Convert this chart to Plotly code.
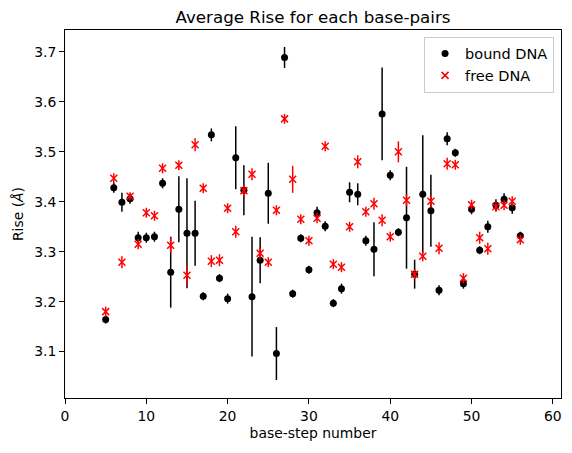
import plotly.graph_objects as go

steps = list(range(5, 57))

bound_rise = [3.164, 3.428, 3.399, 3.406, 3.328, 3.328, 3.330, 3.437, 3.259, 3.385,
              3.337, 3.337, 3.211, 3.534, 3.247, 3.206, 3.488, 3.423, 3.210, 3.283,
              3.417, 3.096, 3.689, 3.216, 3.327, 3.264, 3.378, 3.351, 3.197, 3.226,
              3.419, 3.415, 3.322, 3.305, 3.576, 3.453, 3.339, 3.368, 3.255, 3.415,
              3.382, 3.223, 3.526, 3.498, 3.236, 3.385, 3.303, 3.350, 3.393, 3.405,
              3.388, 3.332]
bound_err = [0.008, 0.010, 0.019, 0.010, 0.012, 0.010, 0.010, 0.010, 0.071, 0.066,
             0.110, 0.065, 0.008, 0.013, 0.008, 0.010, 0.063, 0.050, 0.120, 0.046,
             0.061, 0.053, 0.021, 0.008, 0.008, 0.008, 0.012, 0.010, 0.008, 0.010,
             0.020, 0.022, 0.010, 0.054, 0.093, 0.010, 0.008, 0.102, 0.029, 0.118,
             0.072, 0.010, 0.013, 0.008, 0.010, 0.010, 0.008, 0.012, 0.012, 0.012,
             0.012, 0.008]

free_rise = [3.180, 3.447, 3.279, 3.411, 3.315, 3.378, 3.372, 3.467, 3.313, 3.473,
             3.253, 3.514, 3.427, 3.281, 3.283, 3.387, 3.340, 3.422, 3.455, 3.297,
             3.279, 3.383, 3.566, 3.445, 3.365, 3.322, 3.367, 3.511, 3.275, 3.269,
             3.350, 3.480, 3.380, 3.396, 3.363, 3.330, 3.500, 3.403, 3.255, 3.291,
             3.401, 3.307, 3.476, 3.474, 3.247, 3.394, 3.328, 3.306, 3.390, 3.393,
             3.401, 3.324]
free_err = [0.010, 0.010, 0.012, 0.008, 0.010, 0.010, 0.010, 0.010, 0.015, 0.010,
            0.020, 0.013, 0.010, 0.012, 0.012, 0.010, 0.012, 0.012, 0.012, 0.012,
            0.010, 0.010, 0.010, 0.027, 0.010, 0.010, 0.010, 0.010, 0.010, 0.010,
            0.010, 0.013, 0.010, 0.012, 0.012, 0.010, 0.021, 0.012, 0.010, 0.010,
            0.012, 0.012, 0.012, 0.010, 0.010, 0.010, 0.012, 0.012, 0.010, 0.010,
            0.010, 0.010]

x_ticks = [0, 10, 20, 30, 40, 50, 60]
y_ticks = [3.1, 3.2, 3.3, 3.4, 3.5, 3.6, 3.7]

FONT = "DejaVu Sans"

fig = go.Figure()
fig.add_trace(go.Scatter(
    x=steps, y=bound_rise, mode="markers", name="bound DNA",
    marker=dict(symbol="circle", size=7, color="black"),
    error_y=dict(type="data", array=bound_err, visible=True,
                 color="black", thickness=1.5, width=0),
))
fig.add_trace(go.Scatter(
    x=steps, y=free_rise, mode="markers", name="free DNA",
    marker=dict(symbol="x-thin", size=7, color="red",
                line=dict(color="red", width=1.5)),
    error_y=dict(type="data", array=free_err, visible=True,
                 color="red", thickness=1.5, width=0),
))

axis_common = dict(
    showgrid=False, zeroline=False, showline=True, linecolor="black",
    linewidth=1, mirror=True, ticks="outside", ticklen=5, tickwidth=1,
    tickcolor="black", tickfont=dict(family=FONT, size=13.9, color="black"),
)

fig.update_layout(
    width=572, height=453,
    margin=dict(l=65, r=11, t=30, b=55),
    paper_bgcolor="white", plot_bgcolor="white",
    font=dict(family=FONT, size=13.9, color="black"),
    title=dict(text="Average Rise for each base-pairs", x=0.5 * (65 + 561) / 572,
               xanchor="center", y=1 - 17 / 453, yanchor="middle",
               font=dict(family=FONT, size=16.7, color="black")),
    xaxis=dict(range=[0, 61], tickvals=x_ticks,
               title=dict(text="base-step number", standoff=5,
                          font=dict(family=FONT, size=13.9)),
               **axis_common),
    yaxis=dict(range=[3.007, 3.744], tickvals=y_ticks,
               ticktext=[f"{v:.1f}" for v in y_ticks],
               title=dict(text="Rise (<i>Å</i>)", standoff=7,
                          font=dict(family=FONT, size=13.9)),
               **axis_common),
    legend=dict(x=0.986, y=0.982, xanchor="right", yanchor="top",
                bgcolor="rgba(255,255,255,0.8)", bordercolor="#cccccc",
                borderwidth=1, font=dict(family=FONT, size=14.5),
                tracegroupgap=4),
    showlegend=True,
)

fig.write_html("out.html")
